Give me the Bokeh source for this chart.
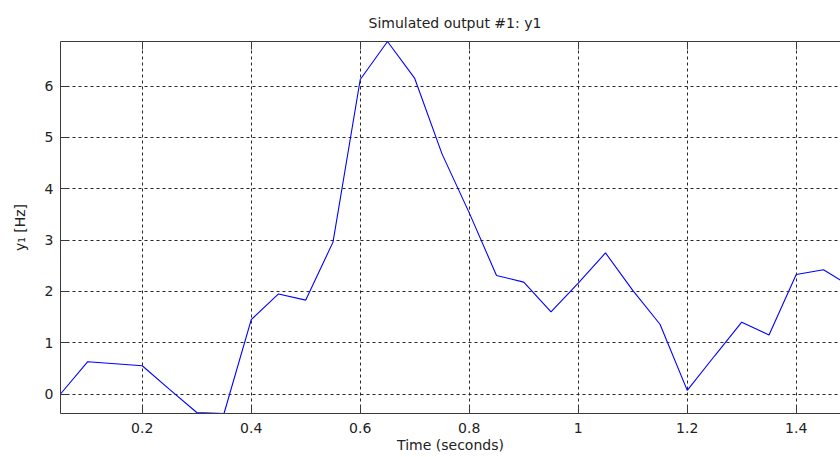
from bokeh.plotting import figure
from bokeh.models import Range1d, LinearAxis, FixedTicker
from bokeh.embed import file_html
from bokeh.resources import INLINE

# Simulated response y1 sampled every 0.05 s
time_s = [0.05, 0.10, 0.15, 0.20, 0.25, 0.30, 0.35, 0.40, 0.45, 0.50,
          0.55, 0.60, 0.65, 0.70, 0.75, 0.80, 0.85, 0.90, 0.95, 1.00,
          1.05, 1.10, 1.15, 1.20, 1.25, 1.30, 1.35, 1.40, 1.45, 1.50]
y1_hz = [0.00, 0.63, 0.59, 0.55, 0.09, -0.36, -0.38, 1.45, 1.95, 1.83,
         2.96, 6.13, 6.87, 6.15, 4.68, 3.53, 2.31, 2.18, 1.60, 2.16,
         2.75, 2.02, 1.36, 0.07, 0.74, 1.40, 1.15, 2.33, 2.42, 2.10]

x_ticks = [0.2, 0.4, 0.6, 0.8, 1.0, 1.2, 1.4]
x_tick_labels = ["0.2", "0.4", "0.6", "0.8", "1", "1.2", "1.4"]
y_ticks = [0, 1, 2, 3, 4, 5, 6]

FONT = "DejaVu Sans"
TEXT = "#222222"
AXIS = "#3a3a3a"

p = figure(width=840, height=457, output_backend="svg", toolbar_location=None,
           x_range=Range1d(0.05, 1.4812), y_range=Range1d(-0.38, 6.87),
           min_border_left=60, min_border_right=0,
           min_border_top=41, min_border_bottom=44)
p.outline_line_color = None
p.background_fill_color = "white"
p.border_fill_color = "white"

p.title.text = "Simulated output #1: y1"
p.title.align = "left"
p.title.offset = 308
p.title.standoff = 22
p.title.text_font = FONT
p.title.text_font_size = "14px"
p.title.text_font_style = "normal"
p.title.text_color = TEXT

xt = FixedTicker(ticks=x_ticks)
yt = FixedTicker(ticks=y_ticks)

def style_axis(ax):
    ax.axis_line_color = AXIS
    ax.axis_line_width = 1
    ax.major_tick_line_color = AXIS
    ax.major_tick_in = 8
    ax.major_tick_out = 0
    ax.minor_tick_line_color = None
    ax.major_label_text_font = FONT
    ax.major_label_text_font_size = "14px"
    ax.major_label_text_color = TEXT
    ax.axis_label_text_font = FONT
    ax.axis_label_text_font_size = "14px"
    ax.axis_label_text_font_style = "normal"
    ax.axis_label_text_color = TEXT

xa = p.xaxis[0]
xa.ticker = xt
xa.major_label_overrides = {v: s for v, s in zip(x_ticks, x_tick_labels)}
xa.axis_label = "Time (seconds)"
style_axis(xa)
xa.major_label_standoff = 9
xa.axis_label_standoff = 1

ya = p.yaxis[0]
ya.ticker = yt
ya.axis_label = "y\u2081 [Hz]"
style_axis(ya)
ya.major_label_standoff = 7
ya.axis_label_standoff = 14

# top frame edge with inward ticks, no labels
top = LinearAxis(ticker=xt)
style_axis(top)
top.major_label_overrides = {v: "" for v in x_ticks}
top.major_label_standoff = 0
p.add_layout(top, "above")

p.xgrid.ticker = xt
p.ygrid.ticker = yt
p.xgrid.grid_line_color = "#262626"
p.ygrid.grid_line_color = "#262626"
p.xgrid.grid_line_dash = "3 3"
p.ygrid.grid_line_dash = "3 3"

p.line(time_s, y1_hz, line_color="#0000ff", line_width=1.1)

open("out.html", "w").write(file_html(p, INLINE))
